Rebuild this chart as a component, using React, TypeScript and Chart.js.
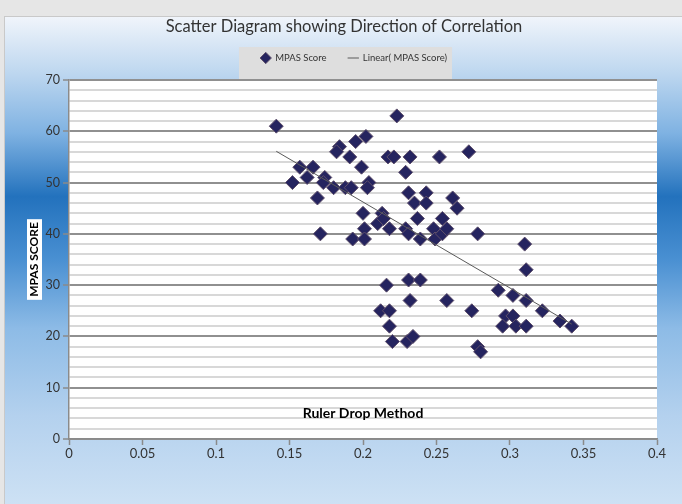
import React, { useEffect, useRef } from 'react';
import { Chart, registerables } from 'chart.js';

Chart.register(...registerables);

const chartTitle = 'Scatter Diagram showing Direction of Correlation';
const seriesLabel = 'MPAS Score';
const trendLabel = 'Linear( MPAS Score)';
const xAxisLabel = 'Ruler Drop Method';
const yAxisLabel = 'MPAS SCORE';

const rulerDrop = [
  0.141, 0.202, 0.195, 0.184, 0.182, 0.191, 0.217, 0.221, 0.232, 0.252,
  0.272, 0.223, 0.199, 0.157, 0.166, 0.162, 0.152, 0.174, 0.173, 0.18,
  0.188, 0.192, 0.204, 0.203, 0.169, 0.2, 0.213, 0.21, 0.214, 0.201,
  0.171, 0.193, 0.201, 0.229, 0.231, 0.243, 0.235, 0.243, 0.261, 0.264,
  0.237, 0.254, 0.218, 0.229, 0.231, 0.239, 0.248, 0.249, 0.254, 0.257,
  0.278, 0.216, 0.231, 0.239, 0.232, 0.257, 0.212, 0.218, 0.274, 0.218,
  0.22, 0.23, 0.234, 0.278, 0.28, 0.31, 0.311, 0.292, 0.302, 0.311,
  0.322, 0.297, 0.302, 0.295, 0.304, 0.311, 0.334, 0.342,
];
const mpasScore = [
  61, 59, 58, 57, 56, 55, 55, 55, 55, 55,
  56, 63, 53, 53, 53, 51, 50, 51, 50, 49,
  49, 49, 50, 49, 47, 44, 44, 42, 43, 41,
  40, 39, 39, 52, 48, 48, 46, 46, 47, 45,
  43, 43, 41, 41, 40, 39, 41, 39, 40, 41,
  40, 30, 31, 31, 27, 27, 25, 25, 25, 22,
  19, 19, 20, 18, 17, 38, 33, 29, 28, 27,
  25, 24, 24, 22, 22, 22, 23, 22,
];
const trendX = [0.141, 0.342];
const trendY = [56.1, 22.4];
const xTickValues = [0, 0.05, 0.1, 0.15, 0.2, 0.25, 0.3, 0.35, 0.4];
const yTickLabels = [0, 10, 20, 30, 40, 50, 60, 70];

const FONT = "Lato, 'Open Sans', 'DejaVu Sans', sans-serif";
const LEGEND_EXTRA = 7.25;
const LEGEND_SHIFT = 10;

const isMajor = (v: number) => yTickLabels.includes(v);

const layoutPlugin = {
  id: 'legendGap',
  beforeLayout(chart: any) {
    const lg = chart.legend;
    if (lg && !lg.__gap) {
      const orig = lg.fit.bind(lg);
      lg.fit = () => {
        orig();
        lg.height += LEGEND_EXTRA;
      };
      lg.__gap = true;
    }
  },
  afterLayout(chart: any) {
    const lg = chart.legend;
    if (lg) {
      lg.left += LEGEND_SHIFT;
      lg.right += LEGEND_SHIFT;
    }
  },
};

const backgroundPlugin = {
  id: 'bgPaint',
  beforeDraw(chart: any) {
    const { ctx, chartArea, width, height } = chart;
    ctx.save();
    ctx.fillStyle = '#e6e6e6';
    ctx.fillRect(0, 0, width, height);
    const g = ctx.createLinearGradient(0, 16, 0, height);
    g.addColorStop(0, '#f1f5fb');
    g.addColorStop(0.12, '#bcd6ef');
    g.addColorStop(0.24, '#7fb2e2');
    g.addColorStop(0.37, '#2372bd');
    g.addColorStop(0.5, '#4a90d2');
    g.addColorStop(0.64, '#8dbbe6');
    g.addColorStop(0.82, '#b4d1ee');
    g.addColorStop(1, '#cde1f4');
    ctx.fillStyle = g;
    ctx.fillRect(4, 16, width - 4, height - 16);
    ctx.strokeStyle = '#c9c9c9';
    ctx.lineWidth = 1;
    ctx.strokeRect(4.5, 16.5, width - 4, height - 16);

    const lg = chart.legend;
    if (lg && lg.legendHitBoxes && lg.legendHitBoxes.length) {
      const hb = lg.legendHitBoxes;
      const l = hb[0].left - 22;
      const last = hb[hb.length - 1];
      const r = last.left + last.width + 5;
      ctx.fillStyle = '#dedede';
      ctx.fillRect(l, 47, r - l, chartArea.top - 47);
    }

    ctx.fillStyle = '#ffffff';
    ctx.fillRect(chartArea.left, chartArea.top, chartArea.right - chartArea.left, chartArea.bottom - chartArea.top);

    ctx.font = `bold 12px ${FONT}`;
    const tw = ctx.measureText(yAxisLabel).width;
    const cy = (chartArea.top + chartArea.bottom) / 2;
    ctx.fillRect(27, cy - tw / 2 - 3, 15, tw + 6);
    ctx.restore();
  },
};

export default function App() {
  const ref = useRef<HTMLCanvasElement>(null);

  useEffect(() => {
    if (!ref.current) return;
    const points = rulerDrop.map((x, i) => ({ x, y: mpasScore[i] }));
    const trend = trendX.map((x, i) => ({ x, y: trendY[i] }));
    const chart = new Chart(ref.current, {
      type: 'scatter',
      data: {
        datasets: [
          {
            label: seriesLabel,
            data: points,
            order: 1,
            pointStyle: 'rectRot',
            pointRadius: 7,
            pointHoverRadius: 7,
            backgroundColor: '#25245f',
            borderColor: '#5e4f6a',
            borderWidth: 1,
          },
          {
            label: trendLabel,
            data: trend,
            order: 0,
            showLine: true,
            pointRadius: 0,
            pointHoverRadius: 0,
            pointStyle: 'line',
            borderColor: '#5a5a5a',
            backgroundColor: '#5a5a5a',
            borderWidth: 1,
          },
        ],
      },
      options: {
        responsive: false,
        animation: false,
        layout: { padding: { left: 31, right: 25, top: 0, bottom: 0 } },
        plugins: {
          title: {
            display: true,
            text: chartTitle,
            color: '#333333',
            font: { family: FONT, size: 16.5, weight: 'normal', lineHeight: 1 },
            padding: { top: 18.75, bottom: -4 },
          },
          legend: {
            display: true,
            labels: {
              usePointStyle: true,
              boxHeight: 8,
              font: { family: FONT, size: 9.5 },
              color: '#333333',
              padding: 22,
              sort: (a: any, b: any) => a.datasetIndex - b.datasetIndex,
            },
          },
          tooltip: { enabled: false },
        },
        scales: {
          x: {
            type: 'linear',
            min: 0,
            max: 0.4,
            afterFit(s: any) {
              s.height = 65;
            },
            afterBuildTicks(s: any) {
              s.ticks = xTickValues.map((v) => ({ value: v }));
            },
            grid: {
              drawOnChartArea: false,
              drawTicks: true,
              tickLength: 6,
              tickColor: '#8a8a8a',
              tickWidth: 1.5,
            },
            border: { color: '#8a8a8a', width: 1.5 },
            ticks: {
              color: '#333333',
              font: { family: FONT, size: 13 },
              padding: 1,
              maxRotation: 0,
              autoSkip: false,
              callback: (v: any) => String(v),
            },
            title: {
              display: true,
              text: xAxisLabel,
              color: '#000000',
              font: { family: FONT, size: 14, weight: 'bold' },
              padding: { top: 0, bottom: 82.6 },
            },
          },
          y: {
            min: 0,
            max: 70,
            afterFit(s: any) {
              s.width = 38;
            },
            ticks: {
              stepSize: 2,
              maxTicksLimit: 100,
              autoSkip: false,
              color: '#333333',
              font: { family: FONT, size: 12.5 },
              padding: 3,
              callback: (v: any) => (isMajor(v) ? String(v) : ''),
            },
            grid: {
              z: -2,
              color: (c: any) => (c.tick && isMajor(c.tick.value) ? '#909090' : '#d8d8d8'),
              lineWidth: 2,
              tickLength: 6,
              tickColor: (c: any) => (c.tick && isMajor(c.tick.value) ? '#8a8a8a' : 'rgba(0,0,0,0)'),
              tickWidth: 1.5,
            },
            border: { color: '#8a8a8a', width: 1.5 },
            title: {
              display: true,
              text: yAxisLabel,
              color: '#000000',
              font: { family: FONT, size: 12, weight: 'bold' },
              padding: { top: -4.2, bottom: 0 },
            },
          },
        },
      },
      plugins: [layoutPlugin, backgroundPlugin],
    } as any);
    return () => chart.destroy();
  }, []);

  return (
    <div style={{ position: 'absolute', left: 0, top: 0, width: 682, height: 504 }}>
      <canvas ref={ref} width={682} height={504} style={{ display: 'block' }} />
    </div>
  );
}
